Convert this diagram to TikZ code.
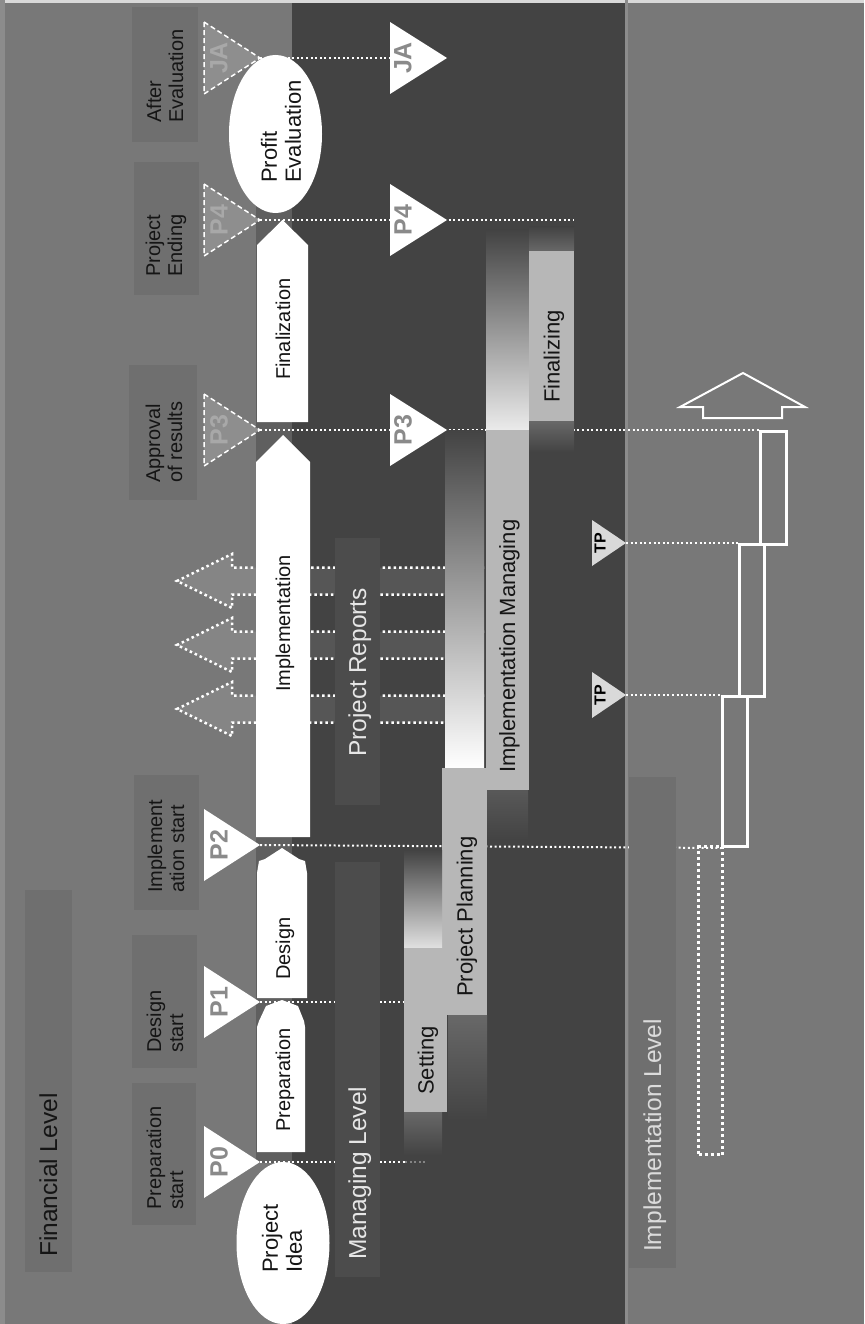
\documentclass[tikz,border=0pt]{standalone}
\usepackage{fontspec}
\setmainfont{Liberation Sans}
\definecolor{bg}{HTML}{787878}
\definecolor{darkband}{HTML}{434343}
\definecolor{boxgray}{HTML}{6F6F6F}
\definecolor{boxdark}{HTML}{4C4C4C}
\definecolor{joint}{HTML}{5F5F5F}
\definecolor{barfill}{HTML}{B7B7B7}
\definecolor{fadegray}{HTML}{686868}
\definecolor{dashfill}{HTML}{8E8E8E}
\definecolor{dashtext}{HTML}{A8A8A8}
\definecolor{tritext}{HTML}{8A8A8A}
\definecolor{tpfill}{HTML}{D9D9D9}
\definecolor{lighttext}{HTML}{E6E6E6}
\definecolor{inktext}{HTML}{151515}
\begin{document}
\begin{tikzpicture}[x=1pt,y=-1pt,
  ms/.style={rotate=90,inner sep=0pt,anchor=west,align=left,text=inktext,font=\fontsize{20}{22}\selectfont},
  phase/.style={rotate=90,inner sep=0pt,anchor=base west,text=inktext,font=\fontsize{20}{24}\selectfont},
  bartxt/.style={rotate=90,inner sep=0pt,anchor=base west,text=inktext,font=\fontsize{22}{26}\selectfont},
  lvl/.style={rotate=90,inner sep=0pt,anchor=base west,font=\fontsize{24.5}{28}\selectfont},
  bub/.style={rotate=90,inner sep=0pt,anchor=west,align=left,text=inktext,font=\fontsize{22}{24}\selectfont},
  mlab/.style={rotate=90,inner sep=0pt,font=\bfseries\fontsize{25}{28}\selectfont},
  tplab/.style={rotate=90,inner sep=0pt,text=black,font=\bfseries\fontsize{16}{18}\selectfont},
  dotline/.style={draw=white,line width=2pt,dash pattern=on 2pt off 2.6pt},
  rep/.style={draw=white,line width=2.5pt,dash pattern=on 2.5pt off 3pt,fill=white,fill opacity=0.1},
  tri/.style={fill=white},
  dtri/.style={fill=dashfill,draw=white,line width=1.5pt,dash pattern=on 5pt off 3pt},
  stepbox/.style={draw=white,line width=3pt,rectangle,inner sep=0pt,anchor=north west},
  dotbox/.style={draw=white,line width=3pt,dash pattern=on 3pt off 3pt,rectangle,inner sep=0pt,anchor=north west}
]
\useasboundingbox (0,0) rectangle (864,1324);

% level bands
\fill[bg] (0,0) rectangle (864,1324);
\fill[darkband] (292,0) rectangle (625,1324);
\fill[white!85!black] (0,0) rectangle (864,3);
\fill[white!55!black] (0,0) rectangle (5,1324);
\fill[white!55!black] (625,0) rectangle (628,1324);

% shaded joints between the phases
\fill[joint] (256,205) rectangle (292,1163);

% project report flows
\foreach \c in {581,645,709}{
  \path[rep] (484,\c-13.5) -- (232,\c-13.5) -- (232,\c-27) -- (177,\c)
    -- (232,\c+27) -- (232,\c+13.5) -- (484,\c+13.5);
}

% milestone coordinates
\coordinate (jaa) at (260,58);
\coordinate (p4a) at (260,220);
\coordinate (p3a) at (260,430);
\coordinate (p2a) at (260,845);
\coordinate (p1a) at (260,1002);
\coordinate (p0a) at (260,1162);
\coordinate (jab) at (447,58);
\coordinate (p4b) at (447,220);
\coordinate (p3b) at (447,430);
\coordinate (tp1) at (626,543);
\coordinate (tp2) at (626,695);
\coordinate (jae) at (392,58);
\coordinate (p4e) at (574,220);
\coordinate (p1e) at (404,1002);
\coordinate (p0m) at (405,1162);
\coordinate (p0e) at (425,1162);

% implementation steps
\node[stepbox,minimum width=26pt,minimum height=113pt] (r1) at (759,430) {};
\node[stepbox,minimum width=25pt,minimum height=152pt] (r2) at (738,543) {};
\node[stepbox,minimum width=25pt,minimum height=150pt] (r3) at (721,695) {};
\node[dotbox,minimum width=24pt,minimum height=308pt] (r0) at (697,845) {};

% milestone lines
\draw[dotline] (jaa) -- (jae);
\draw[dotline] (p4a) -- (p4e);
\draw[dotline] (p3a) -- (r1.north west);
\draw[dotline] (p2a) -- (r3.south west);
\draw[dotline] (p1a) -- (p1e);
\draw[dotline] (p0a) -- (p0m);
\draw[dotline,draw opacity=0.35] (p0m) -- (p0e);
\draw[dotline] (tp1) -- (r2.north west);
\draw[dotline] (tp2) -- (r3.north west);

% managing bars
\shade[top color=darkband,bottom color=white!92!black] (486,230) rectangle (529,430);
\fill[barfill] (486,430) rectangle (529,790);
\shade[top color=fadegray!85!black,bottom color=darkband] (487,790) rectangle (528,840);
\shade[top color=darkband,bottom color=white] (445,430) rectangle (484,768);
\fill[barfill] (442,768) rectangle (487,1015);
\shade[top color=fadegray,bottom color=darkband] (448,1015) rectangle (487,1120);
\shade[top color=darkband,bottom color=white!88!black] (404,850) rectangle (442,948);
\fill[barfill] (404,948) rectangle (447,1112);
\shade[top color=fadegray,bottom color=darkband] (404,1112) rectangle (442,1155);
\shade[top color=darkband,bottom color=fadegray] (529,227) rectangle (574,251);
\fill[barfill] (529,251) rectangle (574,421);
\shade[top color=fadegray,bottom color=darkband] (529,421) rectangle (574,452);

% phases
\fill[white] (257,422) -- (257,245) -- (282.5,220) -- (308,245) -- (308,422) -- cycle;
\fill[white] (256,837) -- (256,462) -- (283,435) -- (310,462) -- (310,837) -- cycle;
\fill[white] (257,998) -- (257,873) -- (259,861) -- (265,859) -- (282,848)
  -- (299,859) -- (305,861) -- (307,873) -- (307,998) -- cycle;
\fill[white] (257,1152) -- (257,1027) -- (259,1021) -- (266,1006) -- (282,1000)
  -- (298,1006) -- (304,1021) -- (305,1027) -- (305,1152) -- cycle;
\fill[white] (283,1243) ellipse [x radius=46.5pt,y radius=81pt];
\fill[white] (275.5,134) ellipse [x radius=46.5pt,y radius=79pt];

% label boxes
\fill[boxgray] (25,890) rectangle (72,1272);
\fill[boxgray] (132,7) rectangle (198,142);
\fill[boxgray] (134,162) rectangle (199,295);
\fill[boxgray] (129,365) rectangle (197,500);
\fill[boxgray] (134,775) rectangle (199,910);
\fill[boxgray] (132,935) rectangle (197,1068);
\fill[boxgray] (132,1083) rectangle (196,1225);
\fill[boxdark] (335,862) rectangle (380,1277);
\fill[boxdark] (335,538) rectangle (380,805);
\fill[boxgray] (629,777) rectangle (676,1268);

% milestone triangles
\path[tri] (204,1126) -- (p0a) -- (204,1198) -- cycle;
\path[tri] (204,966) -- (p1a) -- (204,1038) -- cycle;
\path[tri] (204,809) -- (p2a) -- (204,881) -- cycle;
\path[dtri] (204,394) -- (p3a) -- (204,466) -- cycle;
\path[dtri] (204,184) -- (p4a) -- (204,256) -- cycle;
\path[dtri] (204,22) -- (jaa) -- (204,94) -- cycle;
\path[tri] (390,394) -- (p3b) -- (390,466) -- cycle;
\path[tri] (390,184) -- (p4b) -- (390,256) -- cycle;
\path[tri] (390,22) -- (jab) -- (390,94) -- cycle;
\path[fill=tpfill] (592,520) -- (tp1) -- (592,566) -- cycle;
\path[fill=tpfill] (592,672) -- (tp2) -- (592,718) -- cycle;

% closing arrow of the implementation level
\draw[white,line width=2pt,line join=miter] (680,407) -- (743,373) -- (805,407)
  -- (782,407) -- (782,418) -- (703,418) -- (703,407) -- cycle;

% texts
\node[lvl,text=inktext] (fin) at (57,1257) {Financial Level};
\node[lvl,text=lighttext] (mgl) at (366,1260) {Managing Level};
\node[lvl,text=lighttext] (rpt) at (366,757) {Project Reports};
\node[lvl,text=lighttext!95!black] (iml) at (661,1252) {Implementation Level};

\node[ms] (ms0) at (165,1210) {Preparation\\start};
\node[ms] (ms1) at (165,1053) {Design\\start};
\node[ms] (ms2) at (166,893) {Implement\\ation start};
\node[ms] (ms3) at (164,483) {Approval\\of results};
\node[ms] (ms4) at (166,277) {Project\\Ending};
\node[ms] (ms5) at (165,123) {After\\Evaluation};

\node[phase] (ph0) at (290,1132) {Preparation};
\node[phase] (ph1) at (290,980) {Design};
\node[phase] (ph2) at (290,692) {Implementation};
\node[phase] (ph3) at (290,380) {Finalization};

\node[bub] (idea) at (282,1273) {Project\\Idea};
\node[bub] (profit) at (281,183) {Profit\\Evaluation};

\node[bartxt] (b0) at (433.5,1095) {Setting};
\node[bartxt] (b1) at (472.5,997) {Project Planning};
\node[bartxt] (b2) at (515,773) {Implementation Managing};
\node[bartxt] (b3) at (559.5,403) {Finalizing};

\node[mlab,text=tritext] (l0) at (219,1162) {P0};
\node[mlab,text=tritext] (l1) at (219,1002) {P1};
\node[mlab,text=tritext] (l2) at (219,845) {P2};
\node[mlab,text=dashtext] (l3) at (219,430) {P3};
\node[mlab,text=dashtext] (l4) at (219,220) {P4};
\node[mlab,text=dashtext] (l5) at (219,58) {JA};
\node[mlab,text=tritext] (m3) at (403,430) {P3};
\node[mlab,text=tritext] (m4) at (403,220) {P4};
\node[mlab,text=tritext] (m5) at (403,58) {JA};
\node[tplab] (t1) at (600,543) {TP};
\node[tplab] (t2) at (600,695) {TP};
\end{tikzpicture}
\end{document}
